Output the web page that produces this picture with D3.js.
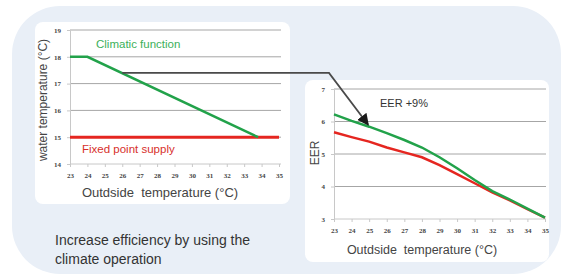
<!DOCTYPE html>
<html>
<head>
<meta charset="utf-8">
<script src="https://cdn.jsdelivr.net/npm/d3@7"></script>
<style>
  html, body { margin: 0; padding: 0; background: #fff; }
  svg { display: block; }
</style>
</head>
<body>
<div id="chart"></div>
<script>
// outside temperature categories (°C)
const temps = [23, 24, 25, 26, 27, 28, 29, 30, 31, 32, 33, 34, 35];

// left chart: water temperature
const waterTicks = [14, 15, 16, 17, 18, 19];
const climaticX = [23, 24, 33.8];
const climaticY = [18, 18, 15];
const fixedX = [23, 35];
const fixedY = [15, 15];

// right chart: EER
const eerTicks = [3, 4, 5, 6, 7];
const eerClimatic = [6.22, 6.02, 5.84, 5.64, 5.43, 5.2, 4.9, 4.56, 4.2, 3.86, 3.6, 3.32, 3.04];
const eerFixed = [5.67, 5.52, 5.38, 5.2, 5.05, 4.9, 4.66, 4.38, 4.1, 3.82, 3.57, 3.3, 3.04];

const W = 571, H = 280;
const GREEN = "#22a24a", RED = "#e52620", GRID = "#a6a6a6";

const svg = d3.select("#chart").append("svg")
  .attr("width", W).attr("height", H);

// background panel
svg.append("rect")
  .attr("x", 12).attr("y", 6).attr("width", 549).attr("height", 268)
  .attr("rx", 48).attr("ry", 48)
  .attr("fill", "#e9eff7");

// cards
svg.append("rect").attr("x", 35).attr("y", 22).attr("width", 255).attr("height", 182)
  .attr("rx", 8).attr("fill", "#fff");
svg.append("rect").attr("x", 305).attr("y", 80).attr("width", 244).attr("height", 182)
  .attr("rx", 8).attr("fill", "#fff");

function drawPanel(opts) {
  const x = d3.scaleLinear().domain([23, 35]).range(opts.xr);
  const y = d3.scaleLinear().domain(opts.yd).range(opts.yr);
  const g = svg.append("g");

  // horizontal gridlines
  g.selectAll(".grid").data(opts.yTicks.slice(1)).enter().append("line")
    .attr("x1", opts.xr[0]).attr("x2", opts.gridEnd)
    .attr("y1", d => y(d)).attr("y2", d => y(d))
    .attr("stroke", GRID).attr("stroke-width", 1);

  const yAxis = g.append("g").attr("transform", `translate(${opts.xr[0]},0)`)
    .call(d3.axisLeft(y).tickValues(opts.yTicks).tickFormat(d3.format("d"))
      .tickSize(3).tickPadding(6));
  const xAxis = g.append("g").attr("transform", `translate(0,${opts.yr[0]})`)
    .call(d3.axisBottom(x).tickValues(temps).tickFormat(d3.format("d"))
      .tickSize(3).tickPadding(6));
  xAxis.select(".domain").attr("d", `M${opts.xr[0]},0H${opts.gridEnd}`);
  [yAxis, xAxis].forEach(a => {
    a.selectAll("path, line").attr("stroke", "#c8c8c8");
    a.selectAll("text").attr("fill", "#444")
      .style("font-family", "'Liberation Serif', serif")
      .style("font-weight", "bold").style("font-size", "7px");
  });
  return { x, y, g };
}

// left panel
const L = drawPanel({ xr: [70, 279], gridEnd: 281, yd: [14, 19], yr: [164, 30], yTicks: waterTicks });
const line = (sx, sy) => d3.line().x(d => sx(d[0])).y(d => sy(d[1]));

L.g.append("path").datum(d3.zip(fixedX, fixedY))
  .attr("d", line(L.x, L.y)).attr("fill", "none").attr("stroke", RED).attr("stroke-width", 3);
L.g.append("path").datum(d3.zip(climaticX, climaticY))
  .attr("d", line(L.x, L.y)).attr("fill", "none").attr("stroke", GREEN).attr("stroke-width", 2.5);

const sans = "'Liberation Sans', Arial, sans-serif";
svg.append("text").attr("x", 96).attr("y", 48).text("Climatic function")
  .attr("fill", "#3cb05a").style("font-family", sans).style("font-size", "11.5px");
svg.append("text").attr("x", 82).attr("y", 153).text("Fixed point supply")
  .attr("fill", "#d7302b").style("font-family", sans).style("font-size", "11.5px");
svg.append("text").attr("transform", "translate(47,100) rotate(-90)")
  .attr("text-anchor", "middle").text("water temperature (°C)")
  .attr("fill", "#444").style("font-family", sans).style("font-size", "12px");
svg.append("text").attr("x", 160).attr("y", 197).attr("text-anchor", "middle")
  .attr("xml:space", "preserve").text("Outdside  temperature (°C)")
  .attr("fill", "#444").style("font-family", sans).style("font-size", "13px");

// right panel
const R = drawPanel({ xr: [334, 545], gridEnd: 546, yd: [3, 7], yr: [219, 89], yTicks: eerTicks });
R.g.append("path").datum(d3.zip(temps, eerFixed))
  .attr("d", line(R.x, R.y)).attr("fill", "none").attr("stroke", RED).attr("stroke-width", 2.5);
R.g.append("path").datum(d3.zip(temps, eerClimatic))
  .attr("d", line(R.x, R.y)).attr("fill", "none").attr("stroke", GREEN).attr("stroke-width", 2.5);

svg.append("text").attr("x", 380).attr("y", 107).text("EER +9%")
  .attr("fill", "#333").style("font-family", sans).style("font-size", "11px");
svg.append("text").attr("transform", "translate(319,153) rotate(-90)")
  .attr("text-anchor", "middle").text("EER")
  .attr("fill", "#444").style("font-family", sans).style("font-size", "12px");
svg.append("text").attr("x", 422).attr("y", 254).attr("text-anchor", "middle")
  .attr("xml:space", "preserve").text("Outdside  temperature (°C)")
  .attr("fill", "#444").style("font-family", sans).style("font-size", "12.5px");

// connector arrow from left climatic line (26°C) to right EER line (25°C)
svg.append("defs").append("marker").attr("id", "arr")
  .attr("viewBox", "0 0 10 10").attr("refX", 9).attr("refY", 5)
  .attr("markerWidth", 6.5).attr("markerHeight", 6.5).attr("orient", "auto")
  .append("path").attr("d", "M0,0L10,5L0,10Z").attr("fill", "#1a1a1a");
const cy = L.y(17.4);
svg.append("path")
  .attr("d", `M${L.x(26)},${cy}H329L${R.x(25) - 1},${R.y(5.84) - 2}`)
  .attr("fill", "none").attr("stroke", "#4a4a4a").attr("stroke-width", 1.8)
  .attr("marker-end", "url(#arr)");

// caption
const cap = svg.append("text").attr("fill", "#333")
  .style("font-family", sans).style("font-size", "14px");
cap.append("tspan").attr("x", 55).attr("y", 245).text("Increase efficiency by using the");
cap.append("tspan").attr("x", 55).attr("y", 264).text("climate operation");
</script>
</body>
</html>
